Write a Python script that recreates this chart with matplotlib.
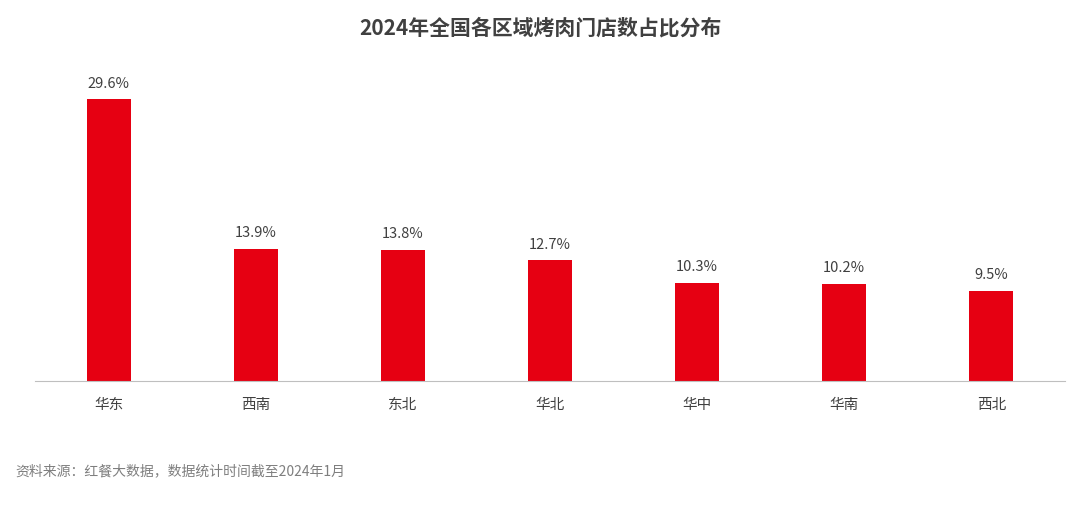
import matplotlib
matplotlib.use("Agg")
import matplotlib.pyplot as plt

plt.rcParams['font.family'] = ['Noto Sans CJK SC', 'DejaVu Sans']

regions = ['华东', '西南', '东北', '华北', '华中', '华南', '西北']
shares = [29.6, 13.9, 13.8, 12.7, 10.3, 10.2, 9.5]

fig = plt.figure(figsize=(10.8, 5.05), dpi=100)
ax = fig.add_axes([35 / 1080, 0.2455, 1030 / 1080, 0.6355])

x = range(len(regions))
ax.bar(x, shares, width=0.3, color='#E60012')
for xi, v in zip(x, shares):
    ax.text(xi, v + 0.9, f'{v}%', ha='center', va='bottom', fontsize=10.5, color='#404040')

ax.set_xlim(-0.5, len(regions) - 0.5)
ax.set_ylim(0, 33.7)
ax.set_xticks(list(x))
ax.set_xticklabels(regions, fontsize=10.5, color='#404040')
ax.tick_params(axis='x', length=0, pad=12)
ax.set_yticks([])
for s in ['top', 'right', 'left']:
    ax.spines[s].set_visible(False)
ax.spines['bottom'].set_color('#BFBFBF')

fig.text(0.5, 1 - 28 / 505, '2024年全国各区域烤肉门店数占比分布', ha='center', va='center',
         fontsize=15, fontweight='bold', color='#404040')
fig.text(15 / 1080, 1 - 471 / 505, '资料来源：红餐大数据，数据统计时间截至2024年1月', ha='left', va='center',
         fontsize=10, color='#7F7F7F')

fig.savefig('out.png', dpi=100)
